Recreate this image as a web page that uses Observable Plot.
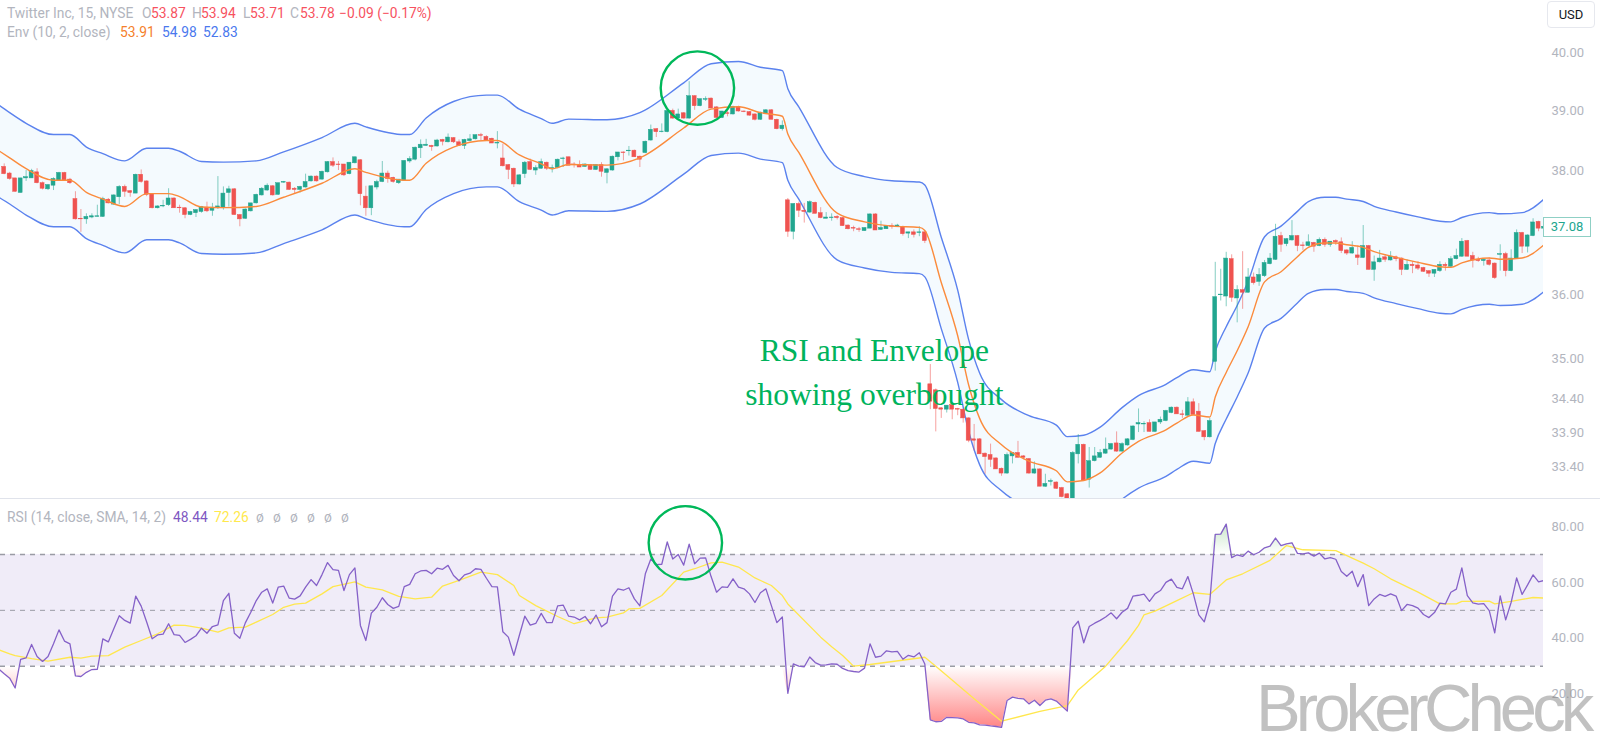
<!DOCTYPE html>
<html>
<head>
<meta charset="utf-8">
<script src="https://cdn.jsdelivr.net/npm/d3@7"></script>
<script src="https://cdn.jsdelivr.net/npm/@observablehq/plot@0.6"></script>
<style>
html,body{margin:0;padding:0;background:#fff;}
#stage{position:relative;width:1600px;height:750px;overflow:hidden;font-family:Roboto,sans-serif;}
#stage svg{position:absolute;left:0;overflow:visible;}
.lg{position:absolute;font:13.8px Roboto,sans-serif;white-space:pre;line-height:16px;}
</style>
</head>
<body>
<div id="stage"></div>
<script>
const opens=[38.06,37.95,37.87,37.63,37.87,37.87,37.97,37.79,37.69,37.75,
37.83,37.96,37.85,37.53,37.21,37.20,37.23,37.24,37.24,37.52,
37.44,37.56,37.73,37.66,37.62,37.93,37.82,37.61,37.38,37.41,
37.43,37.54,37.39,37.38,37.27,37.30,37.32,37.39,37.34,37.38,
37.38,37.63,37.69,37.27,37.21,37.33,37.46,37.59,37.67,37.74,
37.60,37.80,37.80,37.70,37.68,37.72,37.82,37.90,37.85,37.97,
38.14,38.10,38.10,37.94,38.12,38.17,37.57,37.38,37.72,37.81,
37.95,37.88,37.79,37.83,38.15,38.18,38.37,38.41,38.41,38.40,
38.51,38.47,38.54,38.47,38.41,38.49,38.52,38.59,38.56,38.53,
38.45,38.20,38.09,38.03,37.77,37.94,38.14,38.00,38.03,38.13,
38.02,38.04,38.19,38.22,38.10,38.09,38.06,38.09,38.01,38.09,
37.96,38.00,38.22,38.30,38.32,38.33,38.23,38.29,38.50,38.69,
38.64,38.64,39.00,38.87,38.96,38.87,39.25,39.08,39.19,39.21,
39.06,38.88,38.96,38.94,39.07,38.99,38.98,38.94,38.85,38.95,
39.01,38.85,38.69,37.51,37.00,37.45,37.34,37.31,37.47,37.30,
37.21,37.22,37.24,37.22,37.10,37.06,37.04,37.01,37.05,37.28,
37.03,37.04,37.09,37.08,37.08,36.97,36.99,36.98,36.99,34.62,
34.53,34.26,34.24,34.31,34.25,34.24,34.11,33.80,33.80,33.59,
33.57,33.52,33.37,33.30,33.55,33.60,33.55,33.51,33.30,33.36,
33.11,33.18,33.17,33.09,33.00,32.93,33.58,33.72,33.21,33.48,
33.53,33.59,33.65,33.74,33.62,33.71,33.79,34.02,34.02,34.04,
33.91,34.05,34.07,34.19,34.27,34.17,34.15,34.35,34.21,33.92,
33.83,34.96,35.99,35.97,36.56,35.94,36.07,36.03,36.27,36.20,
36.29,36.48,36.55,36.93,36.80,36.86,36.93,36.78,36.77,36.82,
36.77,36.87,36.79,36.85,36.83,36.70,36.65,36.62,36.58,36.77,
36.39,36.51,36.59,36.54,36.59,36.57,36.39,36.47,36.46,36.42,
36.37,36.33,36.37,36.47,36.44,36.56,36.60,36.85,36.61,36.55,
36.53,36.54,36.49,36.63,36.64,36.37,36.57,36.98,36.76,36.93,
37.16,37.05];
const highs=[38.11,37.97,37.87,37.87,38.00,38.02,38.03,37.81,37.77,37.88,
37.97,37.97,37.87,37.65,37.36,37.29,37.29,37.43,37.56,37.54,
37.60,37.75,37.76,37.67,37.94,38.01,37.83,37.62,37.42,37.51,
37.70,37.55,37.43,37.39,37.33,37.36,37.41,37.48,37.46,37.90,
37.73,37.74,37.70,37.28,37.37,37.46,37.61,37.72,37.78,37.75,
37.79,37.82,37.81,37.72,37.74,37.94,37.91,37.91,37.99,38.15,
38.21,38.15,38.10,38.13,38.22,38.18,37.74,37.74,37.84,38.15,
37.99,37.89,37.85,38.16,38.23,38.39,38.51,38.52,38.42,38.52,
38.52,38.61,38.55,38.51,38.52,38.60,38.59,38.62,38.58,38.54,
38.65,38.44,38.10,38.04,37.93,38.15,38.19,38.08,38.19,38.14,
38.09,38.19,38.22,38.22,38.13,38.16,38.11,38.10,38.10,38.13,
38.03,38.24,38.30,38.31,38.40,38.34,38.24,38.49,38.76,38.70,
38.78,39.01,39.03,39.03,38.97,39.50,39.26,39.20,39.24,39.22,
39.07,38.99,39.03,39.08,39.08,39.00,38.99,38.95,38.98,39.02,
39.02,38.86,38.83,37.54,37.45,37.48,37.46,37.50,37.48,37.39,
37.31,37.29,37.26,37.23,37.11,37.09,37.07,37.06,37.29,37.29,
37.17,37.10,37.13,37.12,37.09,36.99,37.03,37.08,37.00,34.92,
34.55,34.27,34.30,34.32,34.26,34.25,34.12,34.02,33.81,33.60,
33.73,33.53,33.38,33.60,33.60,33.77,33.56,33.52,33.47,33.37,
33.29,33.22,33.18,33.10,33.01,33.62,33.87,33.73,33.68,33.68,
33.65,33.82,33.74,33.91,33.75,33.81,34.00,34.25,34.06,34.09,
34.05,34.13,34.23,34.28,34.28,34.23,34.42,34.40,34.33,33.93,
34.11,36.51,36.40,36.67,36.63,36.14,36.68,36.41,36.34,36.41,
36.54,36.65,37.12,36.99,36.89,37.18,36.94,36.83,36.95,36.83,
36.90,36.90,36.84,36.87,36.90,36.71,36.84,36.77,37.10,36.78,
36.61,36.70,36.63,36.68,36.61,36.58,36.55,36.52,36.52,36.43,
36.38,36.39,36.52,36.50,36.60,36.72,36.89,36.86,36.67,36.59,
36.56,36.58,36.50,36.79,36.67,36.71,37.03,36.99,36.95,37.21,
37.17,37.09];
const lows=[37.93,37.84,37.64,37.63,37.82,37.87,37.78,37.68,37.67,37.67,
37.82,37.82,37.77,37.19,36.99,37.12,37.21,37.24,37.23,37.45,
37.43,37.44,37.56,37.56,37.62,37.79,37.57,37.37,37.37,37.39,
37.41,37.38,37.30,37.21,37.26,37.23,37.30,37.31,37.25,37.36,
37.35,37.40,37.27,37.08,37.20,37.32,37.45,37.58,37.66,37.58,
37.59,37.79,37.67,37.61,37.63,37.71,37.81,37.81,37.84,37.96,
38.05,38.00,37.90,37.93,38.11,37.42,37.25,37.26,37.68,37.80,
37.79,37.79,37.77,37.83,38.12,38.16,38.20,38.40,38.32,38.39,
38.41,38.46,38.45,38.40,38.35,38.48,38.51,38.50,38.49,38.45,
38.36,38.06,37.85,37.72,37.76,37.87,38.00,37.92,38.02,38.00,
37.96,38.03,38.05,38.08,38.04,38.05,38.05,38.01,38.00,37.89,
37.78,37.99,38.16,38.16,38.24,38.22,38.05,38.28,38.49,38.55,
38.63,38.63,38.86,38.86,38.86,38.86,39.01,39.07,39.16,39.04,
38.87,38.87,38.90,38.93,38.98,38.97,38.91,38.83,38.84,38.94,
38.85,38.68,38.66,36.91,36.87,37.23,37.14,37.30,37.29,37.21,
37.21,37.17,37.19,37.09,37.03,37.00,36.99,37.01,37.05,37.02,
37.02,37.04,37.04,37.08,36.93,36.89,36.90,36.92,36.81,34.24,
33.91,34.11,34.19,34.09,34.15,34.04,33.75,33.63,33.58,33.29,
33.39,33.36,33.26,33.29,33.44,33.53,33.50,33.29,33.29,33.11,
33.10,33.12,33.07,32.95,32.90,32.90,33.44,33.19,33.09,33.47,
33.52,33.58,33.64,33.61,33.61,33.70,33.78,33.90,33.90,33.91,
33.90,34.02,34.06,34.18,34.17,34.11,34.14,34.16,33.91,33.78,
33.82,34.82,35.90,35.81,35.88,35.56,35.77,36.02,36.15,36.13,
36.27,36.47,36.54,36.67,36.76,36.85,36.68,36.70,36.76,36.67,
36.76,36.75,36.75,36.78,36.65,36.62,36.64,36.46,36.57,36.39,
36.21,36.50,36.51,36.53,36.52,36.30,36.38,36.33,36.38,36.35,
36.27,36.27,36.35,36.37,36.43,36.55,36.59,36.60,36.42,36.51,
36.45,36.45,36.24,36.37,36.28,36.36,36.56,36.65,36.66,36.92,
37.00,37.04];
const closes=[37.94,37.86,37.65,37.87,37.89,37.99,37.79,37.70,37.76,37.86,
37.96,37.83,37.79,37.20,37.20,37.24,37.25,37.25,37.53,37.46,
37.59,37.73,37.65,37.63,37.93,37.81,37.60,37.38,37.41,37.42,
37.54,37.38,37.38,37.27,37.32,37.35,37.40,37.33,37.39,37.41,
37.62,37.69,37.27,37.20,37.36,37.46,37.60,37.70,37.75,37.59,
37.79,37.81,37.68,37.68,37.73,37.81,37.90,37.82,37.98,38.14,
38.08,38.09,37.92,38.13,38.22,37.61,37.38,37.74,37.81,37.95,
37.86,37.81,37.85,38.16,38.19,38.38,38.43,38.43,38.39,38.50,
38.48,38.55,38.47,38.41,38.51,38.52,38.59,38.58,38.50,38.45,
38.46,38.07,38.01,37.77,37.92,38.13,38.01,38.04,38.14,38.03,
38.04,38.18,38.20,38.08,38.09,38.05,38.10,38.01,38.09,37.98,
38.02,38.23,38.30,38.29,38.33,38.22,38.18,38.48,38.68,38.64,
38.65,39.00,38.87,38.94,38.87,39.25,39.08,39.20,39.20,39.04,
38.88,38.99,38.95,39.07,38.99,38.98,38.92,38.85,38.97,39.01,
38.85,38.69,38.75,37.00,37.45,37.34,37.32,37.48,37.29,37.22,
37.23,37.23,37.22,37.09,37.04,37.05,37.03,37.06,37.28,37.02,
37.06,37.09,37.08,37.10,36.96,36.99,36.95,36.99,36.85,34.36,
34.25,34.24,34.30,34.24,34.24,34.11,33.78,33.78,33.58,33.54,
33.50,33.36,33.30,33.57,33.60,33.53,33.53,33.30,33.36,33.11,
33.15,33.19,33.08,32.96,32.93,33.60,33.72,33.20,33.48,33.55,
33.60,33.65,33.73,33.62,33.73,33.80,33.99,34.04,34.03,33.91,
34.05,34.09,34.22,34.27,34.17,34.16,34.35,34.16,33.91,33.83,
34.07,35.96,36.00,36.57,35.95,36.07,36.03,36.27,36.18,36.31,
36.50,36.57,36.92,36.79,36.88,36.93,36.77,36.77,36.83,36.76,
36.87,36.79,36.84,36.83,36.69,36.65,36.74,36.58,36.77,36.39,
36.51,36.57,36.55,36.60,36.56,36.39,36.47,36.45,36.41,36.36,
36.33,36.39,36.47,36.45,36.56,36.61,36.84,36.60,36.54,36.53,
36.55,36.47,36.26,36.64,36.37,36.57,36.98,36.76,36.94,37.15,
37.05,37.08];

const bandBars=[-1,1,4,9,12,15,18,22,26,30,32,36,40,46,51,58,64,66,73,74,77,82,88,90,94,98,100,103,110,116,124,129,134,138,142,143,145,152,157,162,167,168,171,174,176,178,182,187,192,194,197,200,204,207,212,214,217,220,221,223,225,227,230,233,236,238,241,243,245,248,250,254,258,262,264,266,271,273,277,281];
const basis=[38.33,38.21,38.03,37.84,37.84,37.64,37.53,37.41,37.62,37.62,37.57,37.40,37.39,37.41,37.56,37.79,38.03,37.97,37.84,37.84,38.12,38.39,38.50,38.50,38.26,38.11,38.03,38.10,38.09,38.21,38.71,39.03,39.07,38.97,38.91,38.61,38.30,37.30,37.16,37.09,37.07,37.02,36.19,35.36,34.61,34.11,33.72,33.48,33.34,33.18,33.20,33.31,33.60,33.77,33.94,34.04,34.16,34.13,34.43,34.80,35.13,35.50,36.20,36.36,36.60,36.75,36.82,36.82,36.79,36.75,36.68,36.59,36.51,36.44,36.43,36.50,36.58,36.56,36.58,36.79];
const upper=[39.10,38.97,38.79,38.60,38.60,38.39,38.28,38.16,38.37,38.37,38.32,38.15,38.14,38.16,38.31,38.55,38.79,38.73,38.60,38.60,38.88,39.16,39.27,39.27,39.03,38.87,38.79,38.86,38.85,38.97,39.48,39.81,39.85,39.75,39.69,39.38,39.07,38.05,37.90,37.83,37.81,37.76,36.91,36.07,35.30,34.79,34.39,34.15,34.01,33.84,33.86,33.98,34.27,34.45,34.62,34.72,34.84,34.81,35.12,35.50,35.83,36.21,36.92,37.09,37.33,37.49,37.56,37.56,37.53,37.49,37.41,37.32,37.24,37.17,37.16,37.23,37.31,37.29,37.31,37.53];
const lower=[37.56,37.45,37.27,37.08,37.08,36.89,36.78,36.66,36.87,36.87,36.82,36.65,36.64,36.66,36.81,37.03,37.27,37.21,37.08,37.08,37.36,37.62,37.73,37.73,37.49,37.35,37.27,37.34,37.33,37.45,37.94,38.25,38.29,38.19,38.13,37.84,37.53,36.55,36.42,36.35,36.33,36.28,35.47,34.65,33.92,33.43,33.05,32.81,32.67,32.52,32.54,32.64,32.93,33.09,33.26,33.36,33.48,33.45,33.74,34.10,34.43,34.79,35.48,35.63,35.87,36.02,36.08,36.08,36.05,36.02,35.95,35.86,35.78,35.71,35.70,35.77,35.85,35.83,35.85,36.05];

const rsi=[29,27.3,25.7,22.2,32.4,33,37.8,33.5,31.7,33.5,38,43,39,38,26.5,26.3,27.8,28.8,28.9,39.8,38.7,43.4,48.1,46.4,45.4,55.1,51.5,45.8,39.8,41.2,41.5,45.2,41.3,41,38.5,39.6,40.9,43.6,41.8,44.2,44.8,53.5,56.1,41.8,40,45.5,49.3,53.5,56.5,57.7,52.6,58.3,58.7,54.4,54,55.2,58.3,61,58.9,62.8,67.1,64.6,64.3,57.1,62.8,65.2,44.6,39.2,49,51.1,54.5,52.1,50.7,51.4,58.5,59.3,63.1,64.1,64.3,63.1,65.1,64.7,66.1,62.5,60.6,62.7,63.3,64.9,64.7,61.5,58.5,58.4,42.3,40.4,33.9,41,
47.9,44.7,45.3,48.9,45.6,45.6,51.6,51.9,47.9,47.6,46.6,47.8,45.2,48.3,44.1,45.6,55.1,57.7,57.2,58.1,54.1,51.6,63.1,68.4,66.4,66.5,74.5,68.4,70,66.2,73.7,66.7,68.7,68.8,62.1,56.5,58.4,58.2,61.3,58.3,57.7,55.9,52.8,56.3,57.7,51.7,45.6,47.6,20.3,30.8,30,29.8,33.3,31.3,30.4,30.5,30.8,30.7,29.2,28.4,28.1,27.9,29.3,38,33.2,33.6,35.5,35.1,35.3,32.5,33.9,33.3,34.8,30.8,10.8,10.1,10.2,11.7,11.6,11.5,11.1,9.9,9.7,9,8.9,8.6,8.4,8.1,17.7,18.9,18.5,18.3,16.5,17.8,15.9,17.8,18.3,17.5,15.7,13.9,
43.7,46.1,38.4,44.2,45.4,46.4,47.6,49.1,47,49.3,50.7,55.1,55.4,55.8,53.2,55.9,57.1,60,61.2,58.2,57.7,62.1,55.9,48.4,45.9,52.9,77.2,77.3,80.9,68.9,69.9,69.3,71.2,69.9,70.8,72.4,73,75.9,73.2,73.8,74.2,70.4,70.2,70.6,69.4,70.5,68.4,68.9,68.3,63.9,62.2,64,58.5,62.8,51.7,54.1,55.7,55,55.9,55.1,49.9,52.1,51.7,50.8,48.5,47.4,49.2,52.6,52.3,56.5,57.6,65.2,55.3,52.7,52.2,52.4,49.9,41.9,55.2,46.6,52.9,61.6,55.7,59.1,62.7,60.2,60.7];
const maBars=[-1,1,2,5,8,12,14,16,19,22,25,28,31,33,36,39,41,44,46,49,51,53,55,58,60,64,66,69,72,75,78,80,83,87,90,93,94,97,101,104,108,110,113,114,116,120,124,126,129,131,134,137,140,142,143,149,151,153,155,158,168,170,172,177,182,189,194,196,198,201,205,207,208,210,214,217,220,223,226,231,234,237,243,248,250,253,258,262,265,266,271,272,275,277,279,281];
const ma=[35.9,34.4,33.8,32.7,31.8,33.2,32.9,33.6,33.8,36.8,39.2,41.6,44.7,44.6,43.6,42.2,43.7,44,45.8,48.5,51.1,52.2,52.6,55.9,58.5,60.2,58.3,57.3,55,54.1,54.7,58.7,60.7,63.7,62.8,58.9,55.3,51.7,47.8,45.2,47.3,47.6,49.1,50.5,50.7,55.3,63.7,64.9,67,67.3,65.5,61.6,58.9,55.3,52.3,40.4,37,33.8,30,30.6,33.2,30,26.7,18.3,10.3,13.8,15.9,21.5,24.9,30,39.2,44.6,48.4,49.7,53.5,56.3,55.7,60.9,63.1,67.9,73.2,71.7,71.4,66.9,64.9,61.3,56.5,52.3,52.3,53.2,53.3,52.3,53.2,53.9,54.6,54.4];

const priceTicks=[40,39,38,36,35,34.4,33.9,33.4];
const rsiTicks=[80,60,40,20];
const rsiLevels=[70,50,30];
const priceCircle={bar:126.5,value:39.39};
const rsiCircle={bar:124.3,value:74.2};
const noteLines=["RSI and Envelope","showing overbought"];
const noteBars=[158.8,158.8];
const notePrices=[35.13,34.46];

const headerLabels=[["Twitter Inc, 15, NYSE",7],["O",142],["H",192],["L",243],["C",290]];
const headerValues=[["53.87",151],["53.94",201],["53.71",250],["53.78",300],["−0.09 (−0.17%)",339]];
const envLegend=[["53.91",120,"#f57f2c"],["54.98",162,"#4a78ee"],["52.83",203,"#4a78ee"]];
const rsiLegend=[["48.44",173,"#7e57c2"],["72.26",214,"#ffe94d"]];
const emptyLegend=[256,273,290,307,324,341];

const UP="#22a68f",DOWN="#ef5350",GREEN="#00b85a",BAND="#5b82ee";
const bars=d3.range(closes.length);
const xDomain=[-0.675,280.9];
const xScale={domain:xDomain,range:[0,1543],axis:null};
const fontStyle={fontFamily:"Roboto, sans-serif",background:"transparent"};
const isUp=i=>closes[i]>=opens[i];
const bandCurve="monotone-x";

const pricePlot=Plot.plot({
  width:1600,height:498,
  marginLeft:0,marginRight:57,marginTop:0,marginBottom:0,
  style:fontStyle,
  x:xScale,
  y:{type:"log",domain:[32.94,40.922],range:[498,0]},
  marks:[
    Plot.areaY(bandBars,{x:d=>d,y1:(d,i)=>upper[i],y2:(d,i)=>lower[i],fill:"#2196f3",fillOpacity:0.05,curve:bandCurve,clip:true}),
    Plot.line(bandBars,{x:d=>d,y:(d,i)=>upper[i],stroke:BAND,strokeWidth:1.4,curve:bandCurve,clip:true}),
    Plot.line(bandBars,{x:d=>d,y:(d,i)=>lower[i],stroke:BAND,strokeWidth:1.4,curve:bandCurve,clip:true}),
    Plot.ruleX(bars.filter(isUp),{x:i=>i,y1:i=>lows[i],y2:i=>highs[i],stroke:UP,strokeOpacity:0.55,strokeWidth:1,clip:true}),
    Plot.ruleX(bars.filter(i=>!isUp(i)),{x:i=>i,y1:i=>lows[i],y2:i=>highs[i],stroke:DOWN,strokeOpacity:0.55,strokeWidth:1,clip:true}),
    Plot.rect(bars.filter(isUp),{x1:i=>i-0.36,x2:i=>i+0.36,y1:i=>opens[i],y2:i=>closes[i],fill:UP,stroke:UP,strokeWidth:0.5,clip:true}),
    Plot.rect(bars.filter(i=>!isUp(i)),{x1:i=>i-0.36,x2:i=>i+0.36,y1:i=>opens[i],y2:i=>closes[i],fill:DOWN,stroke:DOWN,strokeWidth:0.5,clip:true}),
    Plot.line(bandBars,{x:d=>d,y:(d,i)=>basis[i],stroke:"#fb8b3c",strokeWidth:1.4,curve:bandCurve,clip:true}),
    Plot.dot([priceCircle],{x:"bar",y:"value",r:36.7,stroke:GREEN,strokeWidth:2.4,fill:"none"}),
    Plot.text(noteLines,{x:(d,i)=>noteBars[i],y:(d,i)=>notePrices[i],text:d=>d,fill:"#00b35c",fontSize:31.5,fontFamily:"Liberation Serif",textAnchor:"middle"}),
    Plot.axisY(priceTicks,{anchor:"right",tickSize:0,tickPadding:8,tickFormat:d3.format(".2f"),label:null,color:"#b2b5be",fontSize:13})
  ]
});
pricePlot.style.top="0px";

const rows=rsi.map((v,i)=>({bar:i-1,v}));
const gradients=(index,scales)=>{
  const d=d3.create("svg:defs");
  const a=d.append("linearGradient").attr("id","oversoldFill").attr("gradientUnits","userSpaceOnUse")
    .attr("x1",0).attr("x2",0).attr("y1",scales.y(30)).attr("y2",scales.y(8));
  a.append("stop").attr("offset",0).attr("stop-color","#ff5252").attr("stop-opacity",0);
  a.append("stop").attr("offset",1).attr("stop-color","#ff5252").attr("stop-opacity",0.7);
  const b=d.append("linearGradient").attr("id","overboughtFill").attr("gradientUnits","userSpaceOnUse")
    .attr("x1",0).attr("x2",0).attr("y1",scales.y(70)).attr("y2",scales.y(81));
  b.append("stop").attr("offset",0).attr("stop-color","#4caf50").attr("stop-opacity",0);
  b.append("stop").attr("offset",1).attr("stop-color","#4caf50").attr("stop-opacity",0.3);
  return d.node();
};
const rsiPlot=Plot.plot({
  width:1600,height:251,
  marginLeft:0,marginRight:57,marginTop:0,marginBottom:0,
  style:fontStyle,
  x:xScale,
  y:{domain:[-0.2,89.7],range:[251,0]},
  marks:[
    gradients,
    Plot.rect([rsiLevels],{x1:()=>xDomain[0],x2:()=>xDomain[1],y1:d=>d[0],y2:d=>d[2],fill:"#7e57c2",fillOpacity:0.115}),
    Plot.areaY(rows,{x:"bar",y1:()=>30,y2:d=>Math.min(d.v,30),fill:"url(#oversoldFill)",clip:true}),
    Plot.areaY(rows,{x:"bar",y1:()=>70,y2:d=>Math.max(d.v,70),fill:"url(#overboughtFill)",clip:true}),
    Plot.ruleY(rsiLevels,{x1:()=>xDomain[0],x2:()=>xDomain[1],stroke:"#9a9ca5",strokeWidth:d=>d===50?1:1.4,strokeDasharray:"5,5"}),
    Plot.line(maBars,{x:d=>d,y:(d,i)=>ma[i],stroke:"#ffe74d",strokeWidth:1.3,clip:true}),
    Plot.line(rows,{x:"bar",y:"v",stroke:"#8561c8",strokeWidth:1.3,clip:true}),
    Plot.dot([rsiCircle],{x:"bar",y:"value",r:36.7,stroke:GREEN,strokeWidth:2.4,fill:"none"}),
    Plot.axisY(rsiTicks,{anchor:"right",tickSize:0,tickPadding:8,tickFormat:d3.format(".2f"),label:null,color:"#b2b5be",fontSize:13})
  ]
});
rsiPlot.style.top="499px";

const stage=document.getElementById("stage");
stage.append(pricePlot,rsiPlot);
const sep=document.createElement("div");
sep.style.cssText="position:absolute;left:0;top:498px;width:1600px;height:1px;background:#e0e3eb";
stage.append(sep);
function put(text,left,topY,color,extra){
  const s=document.createElement("div");
  s.className="lg";s.textContent=text;
  s.style.left=left+"px";s.style.top=topY+"px";s.style.color=color;
  if(extra)s.style.cssText+=";"+extra;
  stage.append(s);
  return s;
}
headerLabels.forEach(([t,x])=>put(t,x,5,"#b2b5be"));
headerValues.forEach(([t,x])=>put(t,x,5,"#f7525f"));
put("Env (10, 2, close)",7,24,"#b2b5be");
envLegend.forEach(([t,x,c])=>put(t,x,24,c));
put("RSI (14, close, SMA, 14, 2)",7,509,"#b2b5be");
rsiLegend.forEach(([t,x,c])=>put(t,x,509,c));
emptyLegend.forEach(x=>put("ø",x,509,"#b2b5be"));
put("USD",1547,1,"#131722","width:46px;height:25px;line-height:25px;text-align:center;border:1px solid #e6e8ee;border-radius:4px;background:#fff;font-size:13px");
put("37.08",1543,217,"#22a68f","width:46px;height:18px;line-height:18px;text-align:center;border:1px solid #8fd0c5;background:#fff;font-size:13px");
put("BrokerCheck",1256,674,"#8a8a8a","font:400 67px 'Liberation Sans',sans-serif;letter-spacing:-4.9px;line-height:67px;opacity:0.52");
</script>
</body>
</html>
